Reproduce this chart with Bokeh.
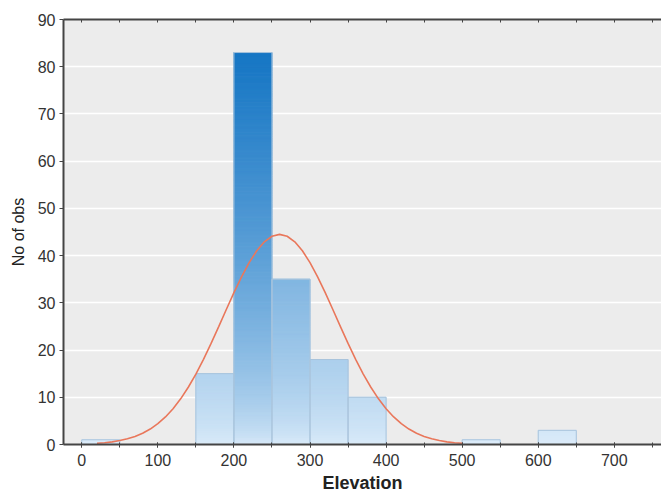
from bokeh.plotting import figure
from bokeh.models import LinearAxis, SingleIntervalTicker, FixedTicker, Range1d, CustomJSTickFormatter
from bokeh.embed import file_html
from bokeh.resources import INLINE

# histogram bins (Elevation) and counts
bin_left = [0, 150, 200, 250, 300, 350, 500, 600]
bin_right = [50, 200, 250, 300, 350, 400, 550, 650]
counts = [1, 15, 83, 35, 18, 10, 1, 3]

# fitted normal curve
curve_x = [20, 30, 40, 50, 60, 70, 80, 90, 100, 110, 120, 130, 140, 150, 160, 170, 180,
           190, 200, 210, 220, 230, 240, 250, 260, 270, 280, 290, 300, 310, 320, 330, 340,
           350, 360, 370, 380, 390, 400, 410, 420, 430, 440, 450, 460, 470, 480, 490, 500]
curve_y = [0.25, 0.37, 0.56, 0.83, 1.20, 1.71, 2.38, 3.27, 4.41, 5.83, 7.58, 9.67, 12.12,
           14.91, 18.03, 21.41, 24.97, 28.59, 32.15, 35.51, 38.51, 41.02, 42.92, 44.10, 44.5,
           44.10, 42.92, 41.02, 38.51, 35.51, 32.15, 28.59, 24.97, 21.41, 18.03, 14.91, 12.12,
           9.67, 7.58, 5.83, 4.41, 3.27, 2.38, 1.71, 1.20, 0.83, 0.56, 0.37, 0.25]

y_ticks = [0, 10, 20, 30, 40, 50, 60, 70, 80, 90]

FONT = "Liberation Sans"
LIGHT = (222, 237, 250)
DARK = (22, 118, 196)
hmax = max(counts)

p = figure(width=661, height=498, x_range=Range1d(-24, 762), y_range=Range1d(0, 90),
           output_backend="svg", toolbar_location=None,
           min_border_left=63, min_border_right=0, min_border_top=19, min_border_bottom=54,
           background_fill_color="#ececec", border_fill_color="white", outline_line_color=None)

p.xgrid.grid_line_color = None
p.ygrid.ticker = FixedTicker(ticks=y_ticks)
p.ygrid.grid_line_color = "white"
p.ygrid.grid_line_width = 1.5

# gradient bars built from thin strips
sl, sr, sb, st, sc = [], [], [], [], []
step = 0.5
for l, r, h in zip(bin_left, bin_right, counts):
    n = int(round(h / step))
    strength = (h / hmax) ** 0.9
    for k in range(n):
        b = k * step
        t = min(b + step, h)
        u = ((b + t) / 2) / h
        f = strength * u ** 0.6
        col = tuple(int(round(LIGHT[i] + (DARK[i] - LIGHT[i]) * f)) for i in range(3))
        sl.append(l); sr.append(r); sb.append(b); st.append(t)
        sc.append("#%02x%02x%02x" % col)
p.quad(left=sl, right=sr, bottom=sb, top=st, fill_color=sc, line_color=sc, line_width=1)
p.quad(left=bin_left, right=bin_right, bottom=0, top=counts, fill_color=None,
       line_color="#a9c4dc", line_width=1)

p.line(curve_x, curve_y, line_color="#e9775b", line_width=1.6)

# axes
xa = p.xaxis[0]
xa.ticker = SingleIntervalTicker(interval=100, num_minor_ticks=2)
xa.axis_label = "Elevation"
xa.axis_label_text_font = FONT
xa.axis_label_text_font_style = "bold"
xa.axis_label_text_font_size = "18px"
xa.axis_label_text_color = "#222"
xa.axis_label_standoff = 4
xa.major_label_text_font = FONT
xa.major_label_text_font_size = "16px"
xa.major_label_text_color = "#333"
xa.major_label_standoff = 6
xa.axis_line_color = "#444"
xa.axis_line_width = 2
xa.major_tick_in = 2
xa.major_tick_out = 3
xa.minor_tick_in = 2
xa.minor_tick_out = 3
xa.major_tick_line_color = "#444"
xa.minor_tick_line_color = "#444"

ya = p.yaxis[0]
ya.ticker = FixedTicker(ticks=y_ticks)
ya.axis_label = "No of obs"
ya.axis_label_text_font = FONT
ya.axis_label_text_font_style = "normal"
ya.axis_label_text_font_size = "16px"
ya.axis_label_text_color = "#222"
ya.axis_label_standoff = 8
ya.major_label_text_font = FONT
ya.major_label_text_font_size = "16px"
ya.major_label_text_color = "#333"
ya.major_label_standoff = 4
ya.axis_line_color = "#444"
ya.axis_line_width = 2
ya.major_tick_in = 0
ya.major_tick_out = 4
ya.minor_tick_line_color = None
ya.major_tick_line_color = "#444"

top = LinearAxis(ticker=SingleIntervalTicker(interval=50, num_minor_ticks=0),
                 formatter=CustomJSTickFormatter(code="return ''"))
top.major_label_text_font_size = "1px"
top.major_label_standoff = 0
top.axis_line_color = "#444"
top.axis_line_width = 2
top.major_tick_in = 3
top.major_tick_out = 0
top.major_tick_line_color = "#444"
top.minor_tick_line_color = None
p.add_layout(top, "above")

open("out.html", "w").write(file_html(p, INLINE))
